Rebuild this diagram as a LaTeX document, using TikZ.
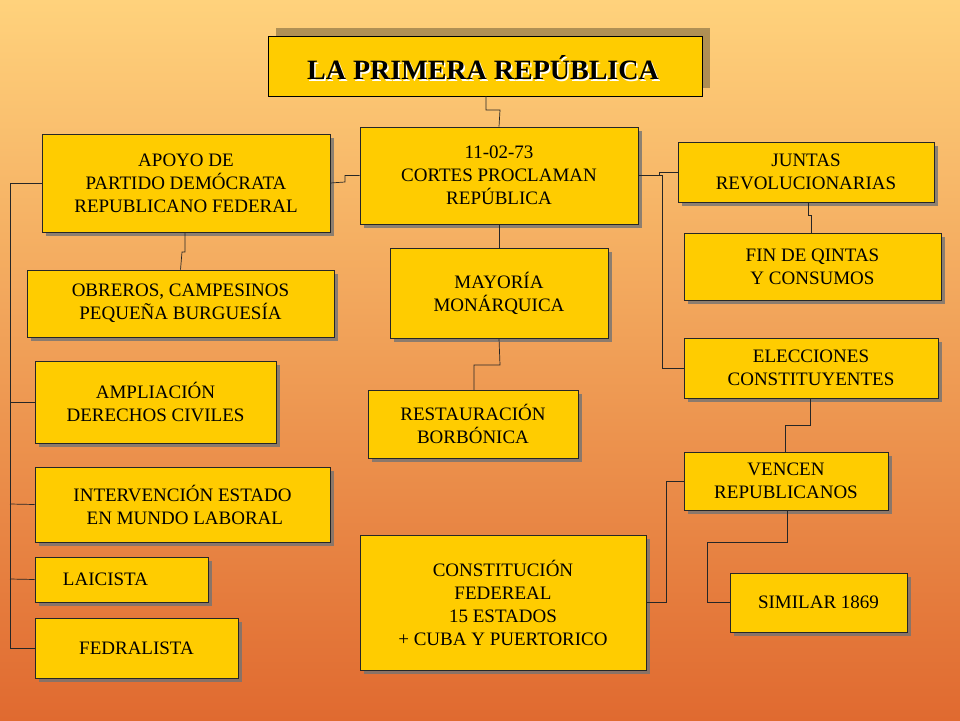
\documentclass[tikz,border=0pt]{standalone}
\usepackage{fontspec}
\setmainfont{Liberation Serif}
\usetikzlibrary{shadows}
\definecolor{boxgold}{HTML}{FFCC00}
\definecolor{bgtop}{HTML}{FFD27C}
\definecolor{bgbot}{HTML}{E06A30}
\tikzset{
  cbox/.style={draw=black!85,fill=boxgold,line width=0.6pt,align=center,
    font=\fontsize{19}{23}\selectfont,inner sep=0pt,
    drop shadow={shadow xshift=4pt,shadow yshift=-4pt,fill=black!55,opacity=0.8}},
  link/.style={draw=black!85,line width=0.7pt}
}
\newcommand{\boxat}[6]{% name, x1, y1, x2, y2, text
  \node[cbox,minimum width={(#4-#2)*1pt},minimum height={(#5-#3)*1pt}]
    (#1) at ({(#2+#4)/2},{(#3+#5)/2}) {#6};}
\begin{document}
\begin{tikzpicture}[x=1pt,y=-1pt]
  \useasboundingbox (0,0) rectangle (960,720);
  \shade[top color=bgtop,bottom color=bgbot] (0,0) rectangle (960,720);
  % title
  \fill[black!30!bgtop!70!black,opacity=0.6] (276,28) rectangle (710,88);
  \node[draw=black,fill=boxgold,minimum width=434pt,minimum height=60pt,inner sep=0pt]
    (title) at (485,66) {};
  \node[white,font=\fontsize{28}{30}\selectfont\bfseries] at (484.5,69.5) {LA PRIMERA REPÚBLICA};
  \node[black,font=\fontsize{28}{30}\selectfont\bfseries] (titletext) at (483,68) {LA PRIMERA REPÚBLICA};
  % boxes
  \boxat{cortes}{360}{127}{638}{224}{11-02-73\\CORTES PROCLAMAN\\REPÚBLICA}
  \boxat{apoyo}{42}{134}{330}{232}{APOYO DE\\PARTIDO DEMÓCRATA\\REPUBLICANO FEDERAL}
  \boxat{obreros}{27}{270}{334}{337}{OBREROS, CAMPESINOS\\PEQUEÑA BURGUESÍA}
  \boxat{ampliacion}{35}{361}{276}{443}{AMPLIACIÓN\\DERECHOS CIVILES}
  \boxat{intervencion}{35}{467}{330}{542}{INTERVENCIÓN ESTADO\\\ EN MUNDO LABORAL}
  \boxat{laicista}{35}{557}{208}{602}{LAICISTA\hspace{32pt}}
  \boxat{fedralista}{35}{618}{238}{678}{FEDRALISTA}
  \boxat{mayoria}{390}{248}{608}{338}{MAYORÍA\\MONÁRQUICA}
  \boxat{restauracion}{368}{390}{578}{458}{RESTAURACIÓN\ \\BORBÓNICA}
  \boxat{constitucion}{360}{535}{646}{670}{CONSTITUCIÓN\\FEDEREAL\\15 ESTADOS\\+ CUBA Y PUERTORICO}
  \boxat{juntas}{678}{142}{934}{202}{JUNTAS\hspace{30pt}\\REVOLUCIONARIAS}
  \boxat{fin}{684}{233}{941}{300}{FIN DE QINTAS\\Y CONSUMOS}
  \boxat{elecciones}{684}{338}{938}{398}{ELECCIONES\\CONSTITUYENTES}
  \boxat{vencen}{684}{452}{888}{510}{VENCEN\hspace{30pt}\\REPUBLICANOS}
  \boxat{similar}{730}{573}{907}{632}{SIMILAR 1869}
  % connectors
  \draw[link] (486,96) -- (486,110) -- (500,110) -- (cortes.north);
  \draw[link] (cortes.west) -- (345,175.5) -- (345,182) -- (apoyo.east);
  \draw[link] (cortes.east) -- (662,175.5) |- (elecciones.west);
  \draw[link] (659,175.5) -- (659,172) -- (juntas.west);
  \draw[link] (185,232) -- (185,252) -- (182,252) -- (obreros.north);
  \draw[link] (apoyo.west) -- (10,183) |- (fedralista.west);
  \draw[link] (10,402) -- (ampliacion.west);
  \draw[link] (10,504) -- (intervencion.west);
  \draw[link] (10,579) -- (laicista.west);
  \draw[link] (cortes.south) -- (mayoria.north);
  \draw[link] (mayoria.south) -- (500,365) -- (474,365) -- (474,390);
  \draw[link] (808,202) -- (808,215) -- (811,215) -- (811,233);
  \draw[link] (810,398) -- (810,425) -- (785,425) -- (785,452);
  \draw[link] (vencen.west) -- (666,481) |- (constitucion.east);
  \draw[link] (787,510) -- (787,542) -- (707,542) |- (similar.west);
\end{tikzpicture}
\end{document}
